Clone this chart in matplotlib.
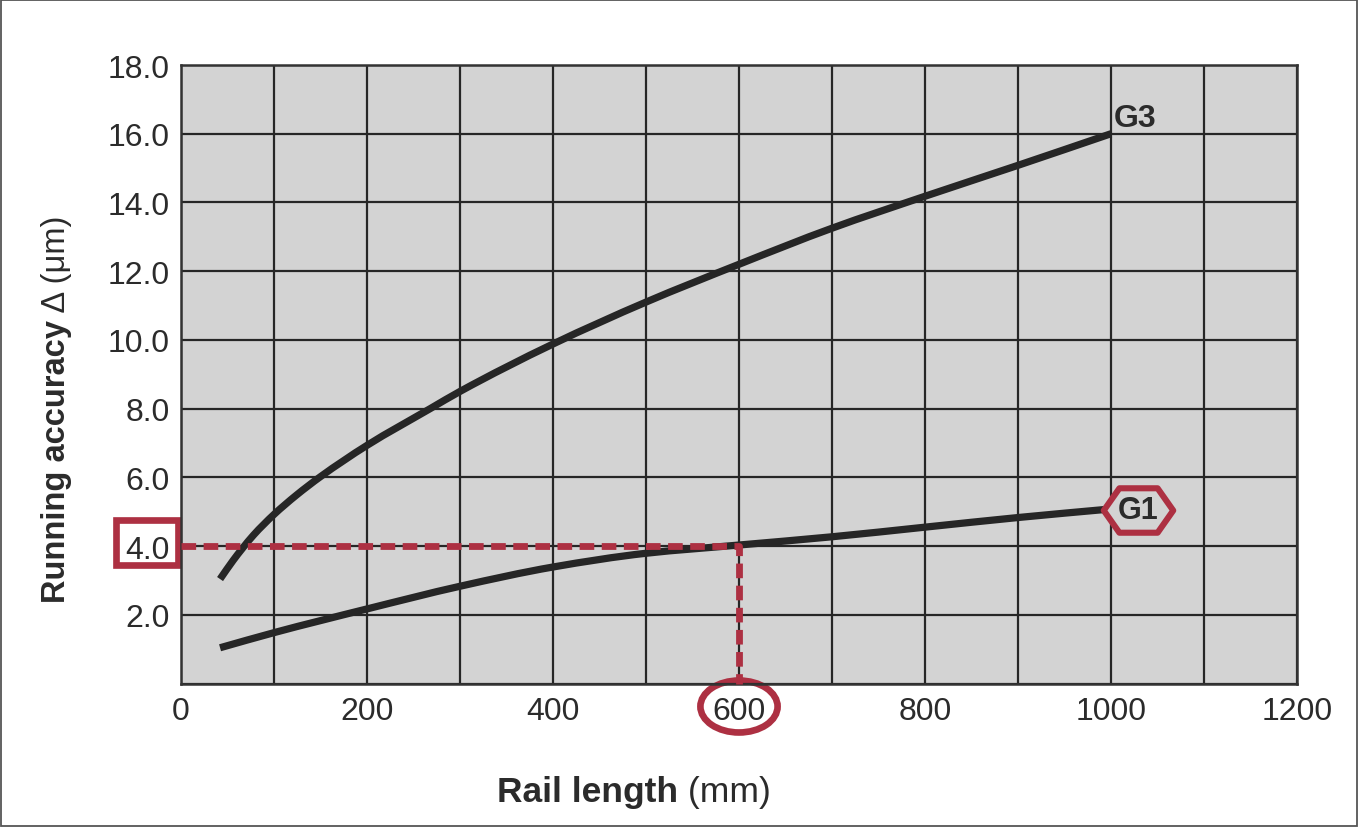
import matplotlib
matplotlib.use('Agg')
import matplotlib.pyplot as plt
import matplotlib.transforms as mtransforms
from matplotlib.path import Path
from matplotlib.patches import Rectangle, Ellipse, PathPatch

plt.rcParams['font.family'] = ['Liberation Sans', 'DejaVu Sans']

# ---- data ----
x_g3 = [42, 56, 66, 78, 100, 124, 150, 200, 268, 300, 400, 500, 600, 700, 800, 900, 1000]
y_g3 = [3.04, 3.58, 3.93, 4.32, 4.92, 5.48, 6.02, 6.93, 8.0, 8.5, 9.88, 11.1, 12.2, 13.25, 14.18, 15.08, 16.0]

x_g1 = [42, 100, 200, 300, 400, 500, 600, 700, 800, 900, 1000]
y_g1 = [1.04, 1.48, 2.17, 2.83, 3.39, 3.79, 4.03, 4.27, 4.55, 4.83, 5.08]

x_grid = [0, 100, 200, 300, 400, 500, 600, 700, 800, 900, 1000, 1100, 1200]
x_tick_labels = ['0', '', '200', '', '400', '', '600', '', '800', '', '1000', '', '1200']
y_grid = [0, 2, 4, 6, 8, 10, 12, 14, 16, 18]
y_tick_labels = ['', '2.0', '4.0', '6.0', '8.0', '10.0', '12.0', '14.0', '16.0', '18.0']

callout_x = 600
callout_y = 4.0

series_names = ['G3', 'G1']

# ---- style ----
RED = '#ad3042'
DARK = '#262626'
BG = '#d3d3d3'
TXT = '#2b2b2b'


def smooth_path(xs, ys):
    """Cubic Bezier path passing exactly through the given points
    (monotone Hermite tangents), used only to draw the line smoothly."""
    n = len(xs)
    h = [xs[i + 1] - xs[i] for i in range(n - 1)]
    d = [(ys[i + 1] - ys[i]) / h[i] for i in range(n - 1)]
    m = [0.0] * n
    m[0] = d[0]
    m[-1] = d[-1]
    for i in range(1, n - 1):
        if d[i - 1] * d[i] <= 0:
            m[i] = 0.0
        else:
            w1 = 2 * h[i] + h[i - 1]
            w2 = h[i] + 2 * h[i - 1]
            m[i] = (w1 + w2) / (w1 / d[i - 1] + w2 / d[i])
    verts = [(xs[0], ys[0])]
    codes = [Path.MOVETO]
    for i in range(n - 1):
        verts += [(xs[i] + h[i] / 3, ys[i] + m[i] * h[i] / 3),
                  (xs[i + 1] - h[i] / 3, ys[i + 1] - m[i + 1] * h[i] / 3),
                  (xs[i + 1], ys[i + 1])]
        codes += [Path.CURVE4] * 3
    return Path(verts, codes)


fig = plt.figure(figsize=(13.58, 8.28), dpi=100)
ax = fig.add_axes([181 / 1358, 1 - 684.5 / 828, 1116 / 1358, 618.5 / 828])
ax.set_facecolor(BG)
ax.set_xlim(x_grid[0], x_grid[-1])
ax.set_ylim(y_grid[0], y_grid[-1])

ax.set_xticks(x_grid)
ax.set_xticklabels(x_tick_labels)
ax.set_yticks(y_grid)
ax.set_yticklabels(y_tick_labels)
ax.tick_params(axis='both', length=0, labelsize=23, labelcolor=TXT)
ax.tick_params(axis='x', pad=9)
ax.tick_params(axis='y', pad=8)
ax.set_axisbelow(True)
ax.grid(True, color=DARK, lw=1.6)
for s in ax.spines.values():
    s.set_color('#333333')
    s.set_linewidth(1.8)

# curves
for xs, ys in [(x_g3, y_g3), (x_g1, y_g1)]:
    ax.add_patch(PathPatch(smooth_path(xs, ys), fill=False, ec=DARK, lw=5.2,
                           capstyle='butt', joinstyle='round', zorder=3))

# dashed call-out
ax.plot([x_grid[0], callout_x, callout_x], [callout_y, callout_y, y_grid[0]],
        color=RED, lw=4.9, dashes=(2.15, 1.1), solid_capstyle='butt',
        dash_capstyle='butt', zorder=4, clip_on=False)

# box around the 4.0 label (drawn below the tick labels)
blend_y = mtransforms.blended_transform_factory(ax.transAxes, ax.transData)
ax.add_patch(Rectangle((-0.0585, 3.45), 0.0555, 1.32, transform=blend_y,
                       fc='white', ec=RED, lw=4.8, clip_on=False, zorder=0.2))

# ellipse around the 600 label
blend_x = mtransforms.blended_transform_factory(ax.transData, ax.transAxes)
ax.add_patch(Ellipse((callout_x, -0.0372), 83, 0.084, transform=blend_x,
                     fc='white', ec=RED, lw=4.8, clip_on=False, zorder=0.2))

# G3 label
ax.text(1003, 16.45, series_names[0], fontsize=23, fontweight='bold',
        color=TXT, ha='left', va='center', zorder=6)

# G1 hexagon + label
hex_verts = [(-1, 0), (-0.55, 0.64), (0.55, 0.64), (1, 0), (0.55, -0.64),
             (-0.55, -0.64), (-1, 0)]
hex_path = Path(hex_verts, [Path.MOVETO] + [Path.LINETO] * 5 + [Path.CLOSEPOLY])
ax.plot([1029], [5.06], marker=hex_path, ms=50, mec=RED, mfc=BG, mew=4.4,
        zorder=5, clip_on=False)
ax.text(1029, 5.06, series_names[1], fontsize=22, fontweight='bold',
        color=TXT, ha='center', va='center', zorder=6)

# x label: bold + regular
t1 = fig.text(497 / 1358, 1 - 802 / 828, 'Rail length', fontsize=25.5,
              fontweight='bold', color=TXT, ha='left', va='baseline')
fig.canvas.draw()
ax.annotate(' (mm)', xy=(1, 0), xycoords=t1, fontsize=25.5, color=TXT,
            ha='left', va='bottom', annotation_clip=False)

# y label: bold + regular, rotated
t2 = fig.text(72 / 1358, 1 - 603 / 828, 'Running accuracy', fontsize=23.5,
              fontweight='bold', color=TXT, rotation=90, ha='right', va='bottom')
fig.canvas.draw()
ax.annotate(' \u0394 (\u03bcm)', xy=(1, 1), xycoords=t2, fontsize=23.5,
            color=TXT, rotation=90, ha='right', va='bottom',
            annotation_clip=False)

# figure border
fig.patches.append(Rectangle((0.0008, 0.0012), 0.9984, 0.9976,
                             transform=fig.transFigure, fill=False,
                             ec='#555555', lw=1.3))

fig.savefig('out.png', dpi=100)
